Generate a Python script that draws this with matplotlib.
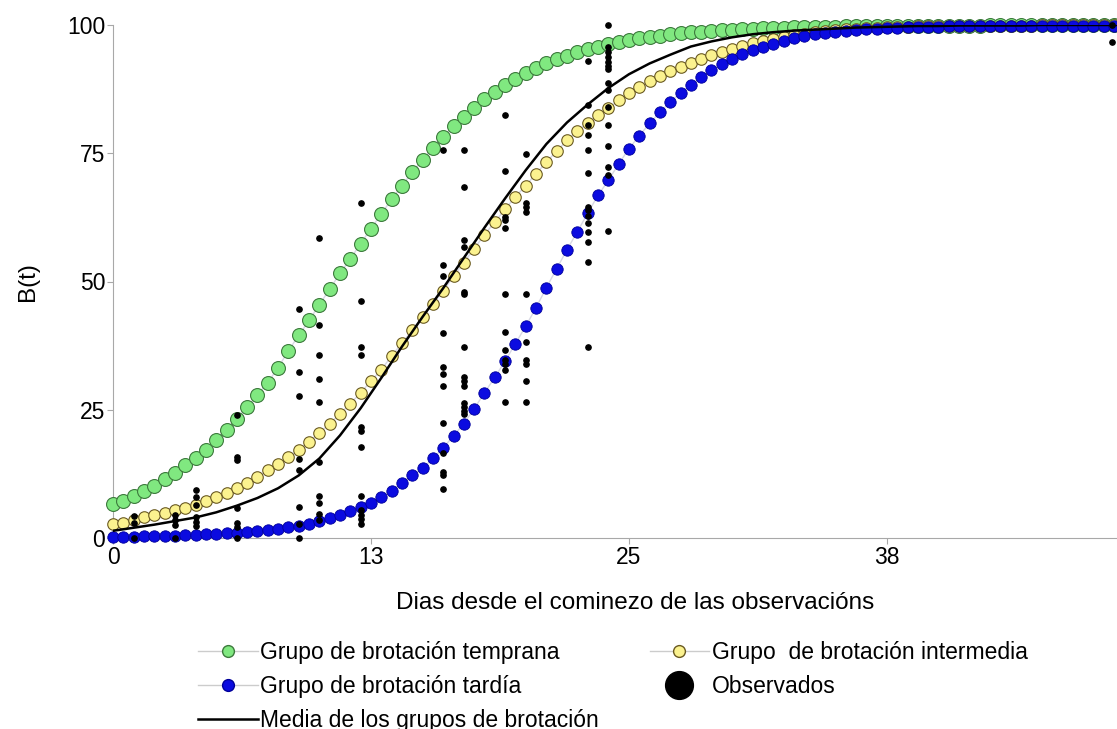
import numpy as np
import matplotlib
matplotlib.use("Agg")
from matplotlib import pyplot as plt
from matplotlib.lines import Line2D

plt.rcParams["font.family"] = ["Liberation Sans", "DejaVu Sans"]

# dias de las curvas ajustadas (cada medio dia)
dias = np.arange(98) * 0.5

temprana = [
    6.6, 7.3, 8.2, 9.2, 10.2, 11.5, 12.7, 14.2, 15.6, 17.2,
    19.1, 21.1, 23.2, 25.5, 27.9, 30.3, 33.2, 36.5, 39.5, 42.4,
    45.5, 48.5, 51.6, 54.4, 57.4, 60.3, 63.2, 66.0, 68.7, 71.3,
    73.7, 76.1, 78.2, 80.3, 82.1, 83.9, 85.5, 86.9, 88.3, 89.5,
    90.6, 91.6, 92.5, 93.3, 94.0, 94.7, 95.3, 95.8, 96.3, 96.7,
    97.0, 97.4, 97.7, 97.9, 98.2, 98.4, 98.6, 98.7, 98.9, 99.0,
    99.1, 99.2, 99.3, 99.4, 99.5, 99.5, 99.6, 99.6, 99.7, 99.7,
    99.7, 99.8, 99.8, 99.8, 99.8, 99.9, 99.9, 99.9, 99.9, 99.9,
    99.9, 99.9, 99.9, 99.9, 99.9, 100, 100, 100, 100, 100,
    100, 100, 100, 100, 100, 100, 100, 100,
]

intermedia = [
    2.7, 3.0, 3.5, 4.0, 4.4, 4.9, 5.4, 5.9, 6.5, 7.3,
    8.0, 8.8, 9.8, 10.8, 11.9, 13.2, 14.5, 15.7, 17.1, 18.8,
    20.5, 22.3, 24.2, 26.2, 28.3, 30.6, 32.8, 35.5, 38.0, 40.5,
    43.1, 45.7, 48.2, 51.0, 53.7, 56.4, 59.1, 61.6, 64.1, 66.5,
    68.7, 71.0, 73.3, 75.4, 77.5, 79.3, 80.9, 82.4, 83.8, 85.3,
    86.8, 88.0, 89.1, 90.1, 91.0, 91.8, 92.6, 93.4, 94.1, 94.8,
    95.4, 95.9, 96.4, 96.9, 97.3, 97.7, 98.0, 98.3, 98.6, 98.8,
    99.0, 99.2, 99.3, 99.4, 99.5, 99.6, 99.7, 99.7, 99.8, 99.8,
    99.8, 99.8, 99.9, 99.9, 99.9, 99.9, 99.9, 99.9, 99.9, 99.9,
    100, 100, 100, 100, 100, 100, 100, 100,
]

tardia = [
    0.2, 0.2, 0.25, 0.3, 0.35, 0.4, 0.45, 0.5, 0.6, 0.7,
    0.8, 0.9, 1.0, 1.15, 1.3, 1.5, 1.8, 2.1, 2.4, 2.8,
    3.3, 3.9, 4.5, 5.2, 6.0, 6.9, 7.9, 9.2, 10.8, 12.2,
    13.6, 15.5, 17.6, 19.9, 22.3, 25.2, 28.3, 31.3, 34.5, 37.9,
    41.3, 44.9, 48.8, 52.5, 56.2, 59.7, 63.3, 66.8, 69.7, 72.9,
    75.9, 78.4, 80.8, 83.0, 85.0, 86.8, 88.3, 89.8, 91.2, 92.4,
    93.4, 94.4, 95.2, 95.8, 96.3, 96.9, 97.5, 97.9, 98.2, 98.5,
    98.7, 98.9, 99.0, 99.2, 99.3, 99.4, 99.5, 99.6, 99.6, 99.7,
    99.7, 99.8, 99.8, 99.8, 99.8, 99.9, 99.9, 99.9, 99.9, 99.9,
    99.9, 99.9, 99.9, 99.9, 99.9, 99.9, 99.9, 99.9,
]

# media de los grupos (un valor por dia)
dias_media = np.arange(50)
media = [
    1.4, 2.0, 2.6, 3.3, 4.0, 5.0, 6.3, 7.8, 9.7, 12.2,
    15.5, 20.0, 25.3, 31.2, 37.3, 43.1, 48.7, 54.6, 60.5, 66.2,
    71.7, 76.8, 81.0, 84.5, 87.7, 90.4, 92.5, 94.2, 95.8, 96.8,
    97.6, 98.2, 98.6, 98.9, 99.1, 99.3, 99.5, 99.6, 99.7, 99.8,
    99.8, 99.9, 99.9, 99.9, 99.9, 100, 100, 100, 100, 100,
]

# observados por dia
observados = {
    1: [4.2, 3.0, 0.0],
    3: [4.5, 3.5, 2.5, 0.0],
    4: [9.4, 8.0, 6.4, 4.1, 3.1, 2.3],
    6: [24.0, 15.8, 15.2, 5.8, 2.9, 2.1, 0.0],
    9: [44.6, 32.4, 27.7, 15.4, 13.3, 6.0, 2.7, 0.0],
    10: [58.5, 41.5, 35.7, 31.0, 26.5, 14.8, 8.2, 6.8, 4.7, 3.5],
    12: [65.3, 46.2, 37.2, 35.7, 21.6, 20.9, 17.7, 8.2, 5.5, 4.5, 3.7, 2.7],
    16: [75.6, 53.2, 51.1, 40.0, 33.3, 32.0, 29.6, 22.4, 16.6, 12.9, 12.3, 9.6],
    17: [75.6, 68.4, 58.1, 56.7, 48.0, 47.6, 37.2, 31.4, 30.6, 29.6, 26.3, 25.5, 24.8, 24.2],
    19: [82.5, 71.5, 62.6, 62.0, 60.4, 47.6, 40.2, 36.6, 34.7, 33.9, 32.7, 26.5],
    20: [74.9, 65.3, 64.5, 63.5, 47.6, 38.2, 34.7, 33.9, 30.6, 26.5],
    23: [93.0, 84.4, 80.5, 78.6, 75.6, 71.2, 64.5, 63.9, 62.8, 61.4, 59.6, 57.7, 53.8, 37.2],
    24: [100.0, 95.7, 94.7, 93.8, 92.8, 92.0, 91.4, 88.7, 87.3, 84.0, 80.5, 76.4, 72.3, 70.8, 59.8],
    48.4: [100.0, 96.6],
}
obs_x = [d for d, vals in observados.items() for v in vals]
obs_y = [v for d, vals in observados.items() for v in vals]

xticks = [0, 12.5, 25, 37.5]
xtick_labels = ["0", "13", "25", "38"]
yticks = [0, 25, 50, 75, 100]

verde = "#80e880"
amarelo = "#fbf28f"
azul = "#0b0be0"
liña = "#d8d8e4"

fig = plt.figure(figsize=(11.17, 7.29), dpi=100)
ax = fig.add_axes([113 / 1117, 191 / 729, 1004 / 1117, 513 / 729])

ax.plot(dias, temprana, color=liña, lw=1, marker="o", ms=10, mfc=verde,
        mec="#3d7a3d", mew=0.8, clip_on=False, zorder=3)
ax.plot(dias, intermedia, color=liña, lw=1, marker="o", ms=8.3, mfc=amarelo,
        mec="#6a5a22", mew=0.8, clip_on=False, zorder=4)
ax.plot(dias, tardia, color=liña, lw=1, marker="o", ms=8.2, mfc=azul,
        mec="#00009a", mew=0.6, clip_on=False, zorder=5)
ax.plot(dias_media, media, color="black", lw=1.8, zorder=6)
ax.plot(obs_x, obs_y, ls="none", marker="o", ms=3.8, color="black",
        clip_on=False, zorder=7)

ax.set_xlim(0, 48.65)
ax.set_ylim(0, 100)
ax.set_xticks(xticks)
ax.set_xticklabels(xtick_labels)
ax.set_yticks(yticks)

for s in ["top", "right"]:
    ax.spines[s].set_visible(False)
for s in ["left", "bottom"]:
    ax.spines[s].set_color("#a8a8a8")
    ax.spines[s].set_linewidth(0.8)
ax.tick_params(colors="#a8a8a8", labelcolor="black", labelsize=16.5,
               length=4, width=0.8, pad=1.5)

ax.set_ylabel("B(t)", fontsize=17.5, labelpad=20)
fig.text(635 / 1117, 1 - 603 / 729, "Dias desde el cominezo de las observacións",
         fontsize=17.5, ha="center", va="center")

handles = [
    Line2D([], [], color="#cccccc", lw=1, marker="o", ms=8.5, mfc=verde, mec="#3d7a3d"),
    Line2D([], [], color="#cccccc", lw=1, marker="o", ms=8.5, mfc=azul, mec="#00009a"),
    Line2D([], [], color="black", lw=1.8),
    Line2D([], [], color="#cccccc", lw=1, marker="o", ms=8.5, mfc=amarelo, mec="#6a5a22"),
    Line2D([], [], ls="none", marker="o", ms=20, color="black"),
]
labels = [
    "Grupo de brotación temprana",
    "Grupo de brotación tardía",
    "Media de los grupos de brotación",
    "Grupo  de brotación intermedia",
    "Observados",
]
fig.legend(handles, labels, ncol=2, loc="upper left",
           bbox_to_anchor=(198 / 1117, 1 - 641 / 729), frameon=False,
           fontsize=16.5, handlelength=2.6, handletextpad=0.12,
           columnspacing=2.2, labelspacing=0.48, borderpad=0, borderaxespad=0)

fig.savefig("out.png", dpi=100)
